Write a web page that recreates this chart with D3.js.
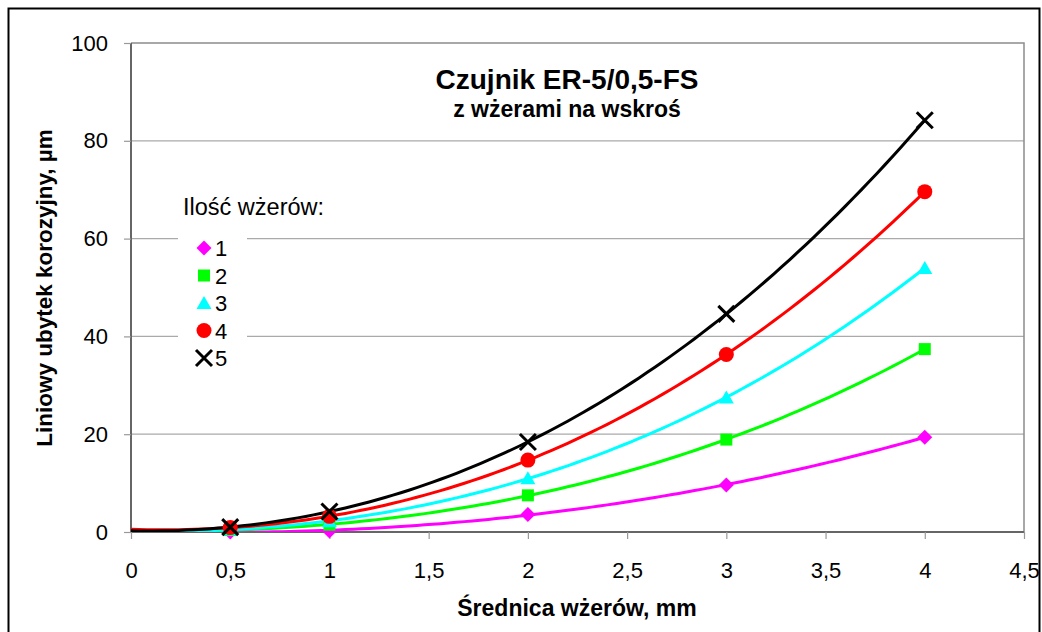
<!DOCTYPE html>
<html>
<head>
<meta charset="utf-8">
<script src="https://cdn.jsdelivr.net/npm/d3@7"></script>
<style>
  body { margin: 0; background: #fff; }
  text { font-family: "Liberation Sans", Arial, sans-serif; }
</style>
</head>
<body>
<div id="chart"></div>
<script>
// dane
const srednice = [0.5, 1, 2, 3, 4];
const seria1 = [0.0, 0.2, 3.6, 9.6, 19.4];
const seria2 = [0.4, 1.5, 7.5, 18.9, 37.4];
const seria3 = [0.5, 2.2, 11.0, 27.5, 54.0];
const seria4 = [0.9, 3.2, 14.7, 36.3, 69.6];
const seria5 = [1.0, 4.2, 18.4, 44.6, 84.2];
const etykiety = ["1", "2", "3", "4", "5"];
const xTicks = [0, 0.5, 1, 1.5, 2, 2.5, 3, 3.5, 4, 4.5];
const yTicks = [0, 20, 40, 60, 80, 100];

const serie = [
  { nazwa: etykiety[0], y: seria1, kolor: "#ff00ff", znak: "diamond" },
  { nazwa: etykiety[1], y: seria2, kolor: "#00ff00", znak: "square" },
  { nazwa: etykiety[2], y: seria3, kolor: "#00ffff", znak: "triangle" },
  { nazwa: etykiety[3], y: seria4, kolor: "#ff0000", znak: "circle" },
  { nazwa: etykiety[4], y: seria5, kolor: "#000000", znak: "cross" }
];

// Konfiguracja
const W = 1042, H = 632;
const margin = { top: 43, right: 18, bottom: 100, left: 131 };
const width = W - margin.left - margin.right;
const height = H - margin.top - margin.bottom;

const svg = d3.select("#chart").append("svg")
  .attr("width", W).attr("height", H);

svg.append("rect").attr("width", W).attr("height", H).attr("fill", "#fff");
// ramka wykresu
svg.append("rect")
  .attr("x", 8.5).attr("y", 8.5)
  .attr("width", 1031).attr("height", 640)
  .attr("fill", "none").attr("stroke", "#000").attr("stroke-width", 2);

const g = svg.append("g").attr("transform", `translate(${margin.left},${margin.top})`);

const x = d3.scaleLinear().domain([0, 4.5]).range([0, width]);
const y = d3.scaleLinear().domain([0, 100]).range([height, 0]);

// linie siatki
g.append("g")
  .selectAll("line")
  .data(yTicks.filter(d => d > 0 && d < 100))
  .enter().append("line")
  .attr("x1", 0).attr("x2", width)
  .attr("y1", d => y(d)).attr("y2", d => y(d))
  .attr("stroke", "#aaaaaa").attr("stroke-width", 1.2);

// ramka obszaru
g.append("path")
  .attr("d", `M0,${y(100)}H${width}V${height}`)
  .attr("fill", "none").attr("stroke", "#8c8c8c").attr("stroke-width", 1.5);

// osie
const xAxis = g.append("g").attr("transform", `translate(0,${height})`)
  .call(d3.axisBottom(x).tickValues(xTicks).tickSize(7).tickPadding(23)
    .tickFormat(d => String(d).replace(".", ",")));
const yAxis = g.append("g")
  .call(d3.axisLeft(y).tickValues(yTicks).tickSize(7).tickPadding(16));

[xAxis, yAxis].forEach(a => {
  a.select(".domain").attr("stroke", "#666").attr("stroke-width", 2);
  a.selectAll(".tick line").attr("stroke", "#999").attr("stroke-width", 1.2);
  a.selectAll(".tick text").attr("font-size", 22).attr("fill", "#000")
    .style("font-family", "'Liberation Sans', Arial, sans-serif");
});
yAxis.select(".domain").attr("d", `M0,${height}V0`);
xAxis.select(".domain").attr("d", `M0,0H${width}`);

// linie trendu (wielomian, najmniejsze kwadraty)
function dopasuj(xs, ys, st) {
  const n = st + 1;
  const A = [];
  for (let i = 0; i < n; i++) {
    A.push([]);
    for (let j = 0; j < n; j++) A[i].push(d3.sum(xs, xi => Math.pow(xi, i + j)));
    A[i].push(d3.sum(xs, (xi, k) => ys[k] * Math.pow(xi, i)));
  }
  for (let i = 0; i < n; i++) {
    for (let j = i + 1; j < n; j++) {
      const f = A[j][i] / A[i][i];
      for (let k = i; k <= n; k++) A[j][k] -= f * A[i][k];
    }
  }
  const c = new Array(n).fill(0);
  for (let i = n - 1; i >= 0; i--) {
    let v = A[i][n];
    for (let k = i + 1; k < n; k++) v -= A[i][k] * c[k];
    c[i] = v / A[i][i];
  }
  return xx => d3.sum(c, (ci, i) => ci * Math.pow(xx, i));
}

g.append("clipPath").attr("id", "clip")
  .append("rect").attr("x", 0).attr("y", -10).attr("width", width).attr("height", height + 10);

const line = d3.line().x(d => x(d[0])).y(d => y(d[1]));
const xs = d3.range(0, 4.0001, 0.04);

serie.forEach(s => {
  const f = dopasuj(srednice, s.y, 3);
  g.append("path")
    .attr("clip-path", "url(#clip)")
    .attr("d", line(xs.map(v => [v, Math.max(f(v), -0.3)])))
    .attr("fill", "none").attr("stroke", s.kolor).attr("stroke-width", 3);
});

// znaczniki
function znacznik(sel, typ, kolor) {
  if (typ === "cross") {
    sel.append("path").attr("d", "M-8,-8L8,8M-8,8L8,-8")
      .attr("stroke", kolor).attr("stroke-width", 3).attr("fill", "none");
  } else if (typ === "diamond") {
    sel.append("path").attr("d", "M0,-7.5L7.5,0L0,7.5L-7.5,0Z").attr("fill", kolor);
  } else if (typ === "square") {
    sel.append("rect").attr("x", -6).attr("y", -6).attr("width", 12).attr("height", 12).attr("fill", kolor);
  } else if (typ === "triangle") {
    sel.append("path").attr("d", "M0,-7L7.5,6L-7.5,6Z").attr("fill", kolor);
  } else {
    sel.append("circle").attr("r", 7.5).attr("fill", kolor);
  }
}

serie.forEach(s => {
  srednice.forEach((xv, i) => {
    const m = g.append("g").attr("transform", `translate(${x(xv)},${y(s.y[i])})`);
    znacznik(m, s.znak, s.kolor);
  });
});

// legenda
svg.append("text").attr("x", 183).attr("y", 215)
  .attr("font-size", 23.5).text("Ilość wżerów:");
const leg = svg.append("g").attr("transform", "translate(178,232)");
leg.append("rect").attr("x", 0).attr("y", 0).attr("width", 69).attr("height", 140).attr("fill", "#fff");
serie.forEach((s, i) => {
  const r = leg.append("g").attr("transform", `translate(26,${16 + i * 27.5})`);
  znacznik(r, s.znak, s.kolor);
  r.append("text").attr("x", 11).attr("y", 8).attr("font-size", 22).text(s.nazwa);
});

// tytuły
svg.append("text").attr("x", 567).attr("y", 89).attr("text-anchor", "middle")
  .attr("font-size", 28).attr("font-weight", "bold").text("Czujnik ER-5/0,5-FS");
svg.append("text").attr("x", 567).attr("y", 117).attr("text-anchor", "middle")
  .attr("font-size", 23).attr("font-weight", "bold").text("z wżerami na wskroś");
svg.append("text").attr("x", 577).attr("y", 616).attr("text-anchor", "middle")
  .attr("font-size", 23).attr("font-weight", "bold").text("Średnica wżerów, mm");
svg.append("text").attr("transform", "translate(52,288) rotate(-90)").attr("text-anchor", "middle")
  .attr("font-size", 22.5).attr("font-weight", "bold").text("Liniowy ubytek korozyjny, µm");
</script>
</body>
</html>
